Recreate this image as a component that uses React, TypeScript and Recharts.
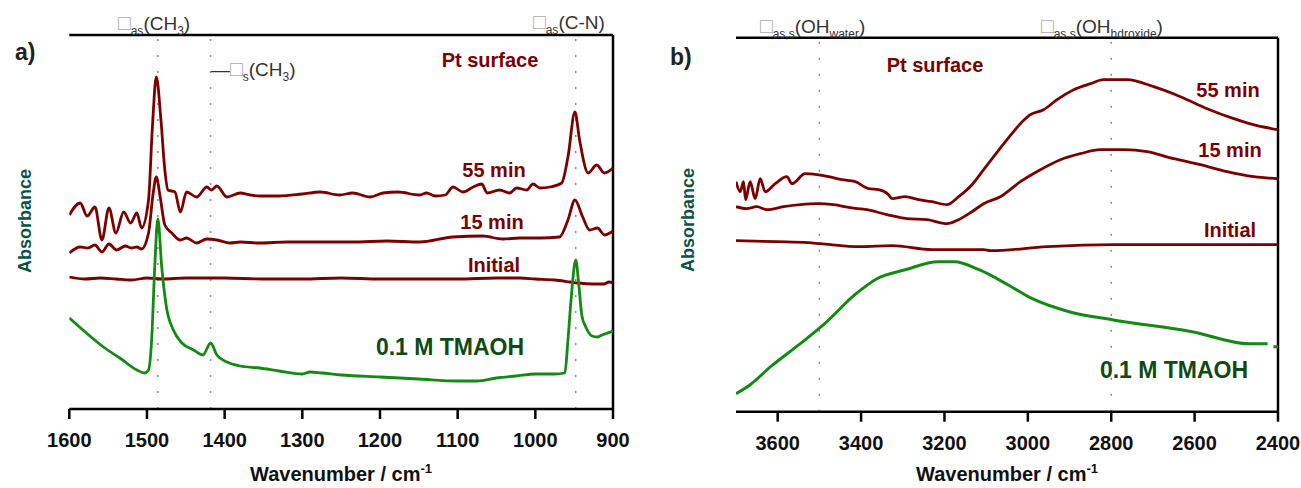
import { LineChart, Line, XAxis, YAxis, ReferenceLine } from 'recharts';

// absorbance (arbitrary units, 0 = bottom of plot)
const surface55A = [[1600,194],[1586,206],[1577,193],[1567,202],[1558,169],[1549,201],[1540,176],[1530,197],[1521,186],[1513,196],[1507,181],[1498,209],[1493,282],[1488,332],[1482,289],[1477,239],[1473,219],[1464,217],[1457,197],[1449,217],[1436,212],[1423,222],[1417,219],[1410,223],[1397,212],[1380,216],[1367,214],[1355,213],[1330,213],[1300,215],[1277,217],[1252,214],[1235,216],[1213,212],[1196,216],[1177,217],[1149,214],[1140,216],[1129,213],[1116,214],[1106,222],[1093,217],[1080,222],[1069,225],[1062,216],[1046,219],[1033,216],[1024,221],[1011,219],[1003,225],[994,221],[981,222],[966,226],[958,252],[949,297],[943,269],[932,236],[921,244],[911,236],[900,241]];
const surface15A = [[1600,156],[1586,162],[1576,161],[1567,164],[1558,157],[1549,165],[1539,159],[1528,163],[1520,161],[1513,162],[1507,160],[1498,176],[1492,216],[1488,232],[1483,212],[1477,184],[1468,176],[1457,169],[1449,171],[1436,166],[1423,170],[1410,169],[1393,166],[1380,167],[1355,166],[1320,167],[1277,167],[1235,167],[1191,168],[1149,167],[1106,172],[1068,173],[1042,170],[1020,171],[994,171],[969,172],[958,189],[949,209],[939,192],[930,179],[920,181],[911,174],[900,178]];
const initialA = [[1600,132],[1580,130],[1560,131],[1540,130],[1520,129],[1500,131],[1480,130],[1450,131],[1400,131],[1350,130],[1300,130],[1250,131],[1200,130],[1150,130],[1100,130],[1050,131],[1020,131],[1000,130],[975,129],[955,127],[945,126],[925,125],[912,125],[905,127],[900,126]];
const tmaohA = [[1600,91],[1578,76],[1556,62],[1535,51],[1513,39],[1503,36],[1498,39],[1494,69],[1490,142],[1486,190],[1481,142],[1475,102],[1466,79],[1455,66],[1440,59],[1428,54],[1418,66],[1410,54],[1397,47],[1380,43],[1355,41],[1330,38],[1300,35],[1290,37],[1275,36],[1250,34],[1200,32],[1150,30],[1100,28],[1075,28],[1050,31],[1025,33],[1000,35],[975,35],[962,36],[958,69],[954,109],[948,149],[944,124],[940,93],[935,82],[927,73],[920,72],[914,74],[900,78]];

const surface55B = [[3700,230],[3690,220],[3682,230],[3677,212],[3666,230],[3654,213],[3642,233],[3630,220],[3606,228],[3578,235],[3566,228],[3534,238],[3506,237],[3478,235],[3446,232],[3414,230],[3382,223],[3358,222],[3334,217],[3326,213],[3294,215],[3262,212],[3230,210],[3194,207],[3166,215],[3134,227],[3106,242],[3082,255],[3050,272],[3018,288],[2994,297],[2962,302],[2930,312],[2890,322],[2850,328],[2818,332],[2762,332],[2698,325],[2634,315],[2570,303],[2506,293],[2450,286],[2400,282]];
const surface15B = [[3700,205],[3674,203],[3650,205],[3626,202],[3586,205],[3546,207],[3506,208],[3466,207],[3426,204],[3386,202],[3338,197],[3290,193],[3242,192],[3194,188],[3166,192],[3134,200],[3106,208],[3066,215],[3018,230],[2970,242],[2922,252],[2874,258],[2826,262],[2770,262],[2714,260],[2650,253],[2586,247],[2522,240],[2458,235],[2400,233]];
const initialB = [[3700,171],[3602,170],[3527,169],[3498,168],[3402,165],[3326,166],[3230,162],[3166,162],[3106,162],[3090,161],[2954,165],[2794,167],[2634,167],[2474,167],[2400,167]];
const tmaohB = [[3700,18],[3666,27],[3617,45],[3549,67],[3490,87],[3412,118],[3362,133],[3294,142],[3215,150],[3176,150],[3117,142],[3048,127],[2989,113],[2901,100],[2798,92],[2606,80],[2469,68],[2425,68],[2418,null],[2411,65],[2400,65]];

const ticksA = [1600, 1500, 1400, 1300, 1200, 1100, 1000, 900];
const ticksB = [3600, 3400, 3200, 3000, 2800, 2600, 2400];
const bandsA = [1486, 1418, 948];
const bandsB = [3500, 2800];

const FONT = '"Liberation Sans", Arial, sans-serif';
const RED = '#7d0000';
const GREEN = '#138a13';
const TOP = 374;

const toPoints = (pairs: (number | null)[][]) => pairs.map(([x, y]) => ({ x, y }));

function SpectrumPanel({ left, width, margin, domain, ticks, bands, series }: any) {
  return (
    <div style={{ position: 'absolute', left, top: 0 }}>
      <LineChart width={width} height={488} margin={margin}>
        <XAxis
          type="number"
          dataKey="x"
          domain={domain}
          reversed
          ticks={ticks}
          interval={0}
          allowDataOverflow
          height={40}
          tickSize={10}
          tickMargin={14}
          tick={{ fontSize: 20, fontWeight: 'bold', fill: '#111', fontFamily: FONT }}
          axisLine={{ stroke: '#000', strokeWidth: 2.5 }}
          tickLine={{ stroke: '#000', strokeWidth: 2.5 }}
        />
        <YAxis type="number" domain={[0, TOP]} width={0} tick={false} tickLine={false} allowDataOverflow
          axisLine={{ stroke: '#000', strokeWidth: 2.5 }} />
        {bands.map((b: number) => (
          <ReferenceLine key={b} x={b} stroke="#8a8a8a" strokeWidth={1.5} strokeDasharray="2 14" />
        ))}
        <ReferenceLine y={TOP} stroke="#000" strokeWidth={2.5} />
        <ReferenceLine x={domain[0]} stroke="#000" strokeWidth={2.5} />
        {series.map((s: any, i: number) => (
          <Line key={i} data={toPoints(s.data)} dataKey="y" type="monotone" stroke={s.color}
            strokeWidth={s.width} dot={false} isAnimationActive={false} />
        ))}
      </LineChart>
    </div>
  );
}

function Band({ x, y, sub, body, bodySub, tail }: any) {
  return (
    <text x={x} y={y} fontSize={19} fontFamily={FONT} fill="#333">
      <tspan fill="#aaa" fontSize={21}>□</tspan>
      <tspan fontSize={12} dy={5}>{sub}</tspan>
      <tspan dy={-5}>{body}</tspan>
      {bodySub && <tspan fontSize={12} dy={5}>{bodySub}</tspan>}
      <tspan dy={bodySub ? -5 : 0}>{tail}</tspan>
    </text>
  );
}

const bold = { fontFamily: FONT, fontWeight: 'bold' as const, textAnchor: 'middle' as const };

export default function App() {
  return (
    <div style={{ position: 'absolute', left: 0, top: 0, width: 1301, height: 488, background: '#fff' }}>
      <SpectrumPanel
        left={0}
        width={660}
        margin={{ top: 35, right: 47, bottom: 39, left: 69.3 }}
        domain={[900, 1600]}
        ticks={ticksA}
        bands={bandsA}
        series={[
          { data: initialA, color: RED, width: 2.8 },
          { data: surface15A, color: RED, width: 2.8 },
          { data: surface55A, color: RED, width: 2.8 },
          { data: tmaohA, color: GREEN, width: 2.8 },
        ]}
      />
      <SpectrumPanel
        left={650}
        width={651}
        margin={{ top: 37.7, right: 23, bottom: 36.3, left: 86 }}
        domain={[2400, 3700]}
        ticks={ticksB}
        bands={bandsB}
        series={[
          { data: initialB, color: RED, width: 2.8 },
          { data: surface15B, color: RED, width: 2.8 },
          { data: surface55B, color: RED, width: 2.8 },
          { data: tmaohB, color: GREEN, width: 3 },
        ]}
      />
      <svg width={1301} height={488} style={{ position: 'absolute', left: 0, top: 0, pointerEvents: 'none' }}>
        <text x={15} y={60} fontSize={23} fontFamily={FONT} fontWeight="bold" fill="#222">a)</text>
        <text x={670} y={65} fontSize={23} fontFamily={FONT} fontWeight="bold" fill="#222">b)</text>

        <text x={31} y={221} fontSize={18} {...bold} fill="#0b5345" transform="rotate(-90 31 221)">Absorbance</text>
        <text x={694} y={220} fontSize={18} {...bold} fill="#0b5345" transform="rotate(-90 694 220)">Absorbance</text>

        <text x={341} y={481} fontSize={20} {...bold} fill="#111">
          Wavenumber / cm<tspan fontSize={13} dy={-8}>-1</tspan>
        </text>
        <text x={1007} y={481} fontSize={20} {...bold} fill="#111">
          Wavenumber / cm<tspan fontSize={13} dy={-8}>-1</tspan>
        </text>

        <text x={490} y={67} fontSize={20} {...bold} fill={RED}>Pt surface</text>
        <text x={494} y={177} fontSize={20} {...bold} fill={RED}>55 min</text>
        <text x={492} y={229} fontSize={20} {...bold} fill={RED}>15 min</text>
        <text x={494} y={272} fontSize={20} {...bold} fill={RED}>Initial</text>
        <text x={450} y={355} fontSize={23} {...bold} fill="#0f4a12">0.1 M TMAOH</text>

        <text x={935} y={72} fontSize={20} {...bold} fill={RED}>Pt surface</text>
        <text x={1228} y={97} fontSize={20} {...bold} fill={RED}>55 min</text>
        <text x={1230} y={157} fontSize={20} {...bold} fill={RED}>15 min</text>
        <text x={1230} y={237} fontSize={20} {...bold} fill={RED}>Initial</text>
        <text x={1174} y={378} fontSize={23} {...bold} fill="#0f4a12">0.1 M TMAOH</text>

        <Band x={118} y={30} sub="as" body="(CH" bodySub="3" tail=")" />
        <text x={211} y={76} fontSize={19} fontFamily={FONT} fill="#333">—</text>
        <Band x={230} y={76} sub="s" body="(CH" bodySub="3" tail=")" />
        <Band x={533} y={29} sub="as" body="(C-N)" tail="" />
        <Band x={760} y={33} sub="as,s" body="(OH" bodySub="water" tail=")" />
        <Band x={1041} y={33} sub="as,s" body="(OH" bodySub="hdroxide" tail=")" />
      </svg>
    </div>
  );
}
